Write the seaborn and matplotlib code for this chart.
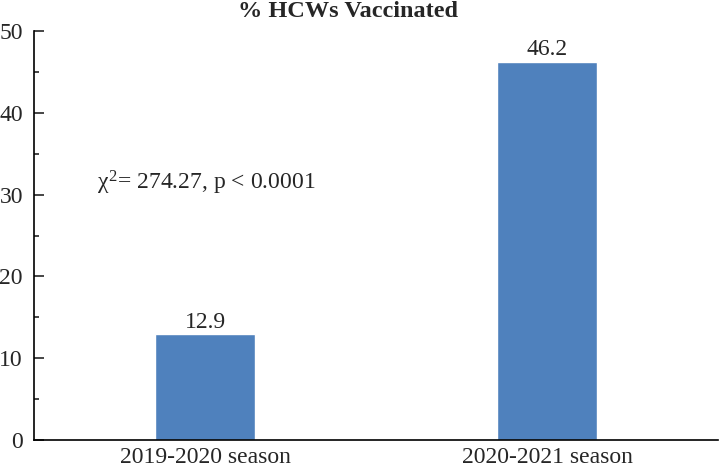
import matplotlib
matplotlib.use("Agg")
import matplotlib.pyplot as plt
import seaborn as sns
import pandas as pd
from matplotlib.ticker import MultipleLocator

seasons = ["2019-2020 season", "2020-2021 season"]
vaccinated = [12.9, 46.2]
title = "% HCWs Vaccinated"
annotation = r"$\chi^2$= 274.27, p < 0.0001"

sns.set_style("white")
plt.rcParams['font.family'] = ['Liberation Serif', 'DejaVu Serif']
plt.rcParams['mathtext.fontset'] = 'custom'
plt.rcParams['mathtext.rm'] = 'Liberation Serif'
plt.rcParams['mathtext.it'] = 'Liberation Serif'

df = pd.DataFrame({"season": seasons, "pct": vaccinated})

fig = plt.figure(figsize=(7.2, 4.68), dpi=100)
ax = fig.add_axes([34/720, 1 - 440/468, (718-34)/720, (440-31)/468])
sns.barplot(data=df, x="season", y="pct", color="#4F81BD", width=0.295,
            saturation=1, ax=ax)
ax.set_xlim(-0.5, 1.5)
ax.set_ylim(0, 50)
ax.yaxis.set_major_locator(MultipleLocator(10))
ax.yaxis.set_minor_locator(MultipleLocator(5))
ax.tick_params(axis='y', which='major', direction='in', length=7, width=1.2,
               labelsize=17, left=True, pad=8)
ax.tick_params(axis='y', which='minor', direction='in', length=3.5, width=1.2, left=True)
ax.tick_params(axis='x', length=0, labelsize=17, pad=5)
ax.set_xlabel("")
ax.set_ylabel("")
for s in ["top", "right"]:
    ax.spines[s].set_visible(False)
for s in ["left", "bottom"]:
    ax.spines[s].set_color("black")
    ax.spines[s].set_linewidth(1.2)

for i, v in enumerate(vaccinated):
    ax.text(i, v + 0.2, f"{v}", ha="center", va="bottom", fontsize=17)

ax.text(-0.315, 31.4, annotation, ha="left", va="center", fontsize=17)
fig.text(348/720, 0.998, title, ha="center", va="top", fontsize=17.5, fontweight="bold")

fig.savefig("out.png", dpi=100)
